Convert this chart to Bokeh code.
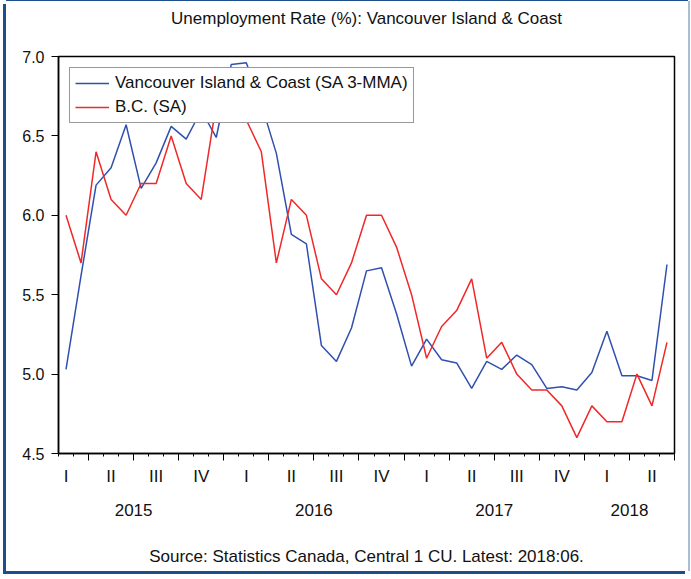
import pandas as pd
from bokeh.plotting import figure
from bokeh.models import (FixedTicker, LinearAxis, Legend, Range1d, PrintfTickFormatter)
from bokeh.embed import file_html
from bokeh.resources import INLINE

# ---------------- data ----------------
periods = pd.period_range("2015-02", "2018-06", freq="M")
vic_island_coast = [5.03, 5.62, 6.19, 6.30, 6.57, 6.17, 6.33, 6.56, 6.48, 6.66,
                    6.49, 6.95, 6.96, 6.70, 6.39, 5.88, 5.82, 5.18, 5.08, 5.29,
                    5.65, 5.67, 5.38, 5.05, 5.22, 5.09, 5.07, 4.91, 5.08, 5.03,
                    5.12, 5.06, 4.91, 4.92, 4.90, 5.01, 5.27, 4.99, 4.99, 4.96,
                    5.69]
bc = [6.0, 5.7, 6.4, 6.1, 6.0, 6.2, 6.2, 6.5, 6.2, 6.1,
      6.7, 6.8, 6.6, 6.4, 5.7, 6.1, 6.0, 5.6, 5.5, 5.7,
      6.0, 6.0, 5.8, 5.5, 5.1, 5.3, 5.4, 5.6, 5.1, 5.2,
      5.0, 4.9, 4.9, 4.8, 4.6, 4.8, 4.7, 4.7, 5.0, 4.8,
      5.2]
quarter_names = ["I", "II", "III", "IV"]
years = [2015, 2016, 2017, 2018]
y_ticks = [4.5, 5.0, 5.5, 6.0, 6.5, 7.0]
title_text = "Unemployment Rate (%): Vancouver Island & Coast"
source_text = "Source: Statistics Canada, Central 1 CU. Latest: 2018:06."
series_names = ["Vancouver Island & Coast (SA 3-MMA)", "B.C. (SA)"]

# month index: 0 = Jan 2015
def midx(per):
    return (per.year - 2015) * 12 + per.month - 1

x = [midx(p_) for p_ in periods]
all_months = pd.period_range("2015-01", "2018-06", freq="M")
all_idx = [midx(p_) for p_ in all_months]
x_lo, x_hi = min(x) - 0.5, max(x) + 0.5

month_bounds = [i + 0.5 for i in all_idx if x_lo <= i + 0.5 <= x_hi]
quarter_bounds = [i + 0.5 for i, p_ in zip(all_idx, all_months)
                  if p_.month % 3 == 0 and i + 0.5 >= x_lo]

q_x, q_t = [], []
for p_, i in zip(all_months, all_idx):
    if p_.month % 3 == 2:
        q_x.append(i)
        q_t.append(quarter_names[(p_.month - 1) // 3])
y_x = [sum(i for p_, i in zip(all_months, all_idx) if p_.year == yr) /
       sum(1 for p_ in all_months if p_.year == yr) for yr in years]

FONT = "Liberation Sans"
BLUE = "#3050B0"
RED = "#F02828"
TXT = "#111111"
DARK = "#1F4E8C"
LIGHT = "#A8BDD6"

p = figure(width=682, height=570, output_backend="svg", toolbar_location=None,
           x_range=Range1d(x_lo, x_hi), y_range=Range1d(4.5, 7.0),
           x_axis_type=None, min_border_left=52, min_border_right=14,
           min_border_top=55, min_border_bottom=118)
p.styles = {"margin-left": "6px", "margin-top": "1px",
            "box-shadow": f"-3px 3px 0 0 {DARK}, 2px 0 0 0 {LIGHT}, 0 -1px 0 0 {DARK}"}
p.xgrid.visible = False
p.ygrid.visible = False
p.outline_line_color = "black"
p.outline_line_width = 1.5
p.outline_line_alpha = 1.0
p.background_fill_color = "white"
p.border_fill_color = "white"

# title: label of a tick-less axis above the frame
ta = LinearAxis(ticker=FixedTicker(ticks=[], minor_ticks=[]),
                axis_line_color=None, major_tick_line_color=None, minor_tick_line_color=None,
                major_tick_out=0, major_tick_in=0, major_label_standoff=0,
                axis_label=title_text, axis_label_standoff=29,
                axis_label_text_font=FONT, axis_label_text_font_size="17px",
                axis_label_text_font_style="normal", axis_label_text_color=TXT)
p.add_layout(ta, "above")

# y axis
ya = p.yaxis[0]
ya.ticker = FixedTicker(ticks=y_ticks, minor_ticks=[])
ya.formatter = PrintfTickFormatter(format="%.1f")
ya.major_tick_out = 7
ya.major_tick_in = 0
ya.minor_tick_line_color = None
ya.major_label_standoff = 7
ya.major_label_text_font = FONT
ya.major_label_text_font_size = "16px"
ya.major_label_text_color = TXT
ya.axis_line_color = "black"
ya.axis_line_width = 1.5
ya.major_tick_line_color = "black"

# x axis: month / quarter tick marks
xa = LinearAxis(ticker=FixedTicker(ticks=quarter_bounds, minor_ticks=month_bounds),
                major_tick_out=7, major_tick_in=0, minor_tick_out=3, minor_tick_in=0,
                axis_line_width=1.5, axis_line_color="black",
                major_tick_line_color="black", minor_tick_line_color="black",
                major_label_standoff=0,
                major_label_text_font_size="0px", major_label_text_alpha=0,
                major_label_overrides={t: "" for t in quarter_bounds})
p.add_layout(xa, "below")

# quarter labels
qa = LinearAxis(ticker=FixedTicker(ticks=q_x, minor_ticks=[]),
                major_label_overrides={v: t for v, t in zip(q_x, q_t)},
                axis_line_color=None, major_tick_line_color=None, minor_tick_line_color=None,
                major_tick_out=0, major_tick_in=0, major_label_standoff=6,
                major_label_text_font=FONT, major_label_text_font_size="17px",
                major_label_text_color=TXT)
p.add_layout(qa, "below")

# year labels, with the source note as the axis label
yra = LinearAxis(ticker=FixedTicker(ticks=y_x, minor_ticks=[]),
                 major_label_overrides={v: str(yr) for v, yr in zip(y_x, years)},
                 axis_line_color=None, major_tick_line_color=None, minor_tick_line_color=None,
                 major_tick_out=0, major_tick_in=0, major_label_standoff=15,
                 major_label_text_font=FONT, major_label_text_font_size="17px",
                 major_label_text_color=TXT,
                 axis_label=source_text, axis_label_standoff=28,
                 axis_label_text_font=FONT, axis_label_text_font_size="17px",
                 axis_label_text_font_style="normal", axis_label_text_color=TXT)
p.add_layout(yra, "below")

r1 = p.line(x, vic_island_coast, line_color=BLUE, line_width=1.5)
r2 = p.line(x, bc, line_color=RED, line_width=1.5)

legend = Legend(items=[(series_names[0], [r1]), (series_names[1], [r2])],
                location=(11, 330), padding=5, spacing=4, margin=0,
                glyph_width=34, glyph_height=20, label_height=20, label_standoff=6,
                label_text_font=FONT, label_text_font_size="17px", label_text_color=TXT,
                border_line_color="#333333", border_line_width=1,
                background_fill_color="white", background_fill_alpha=1.0)
p.add_layout(legend, "center")

open("out.html", "w").write(file_html(p, INLINE))
